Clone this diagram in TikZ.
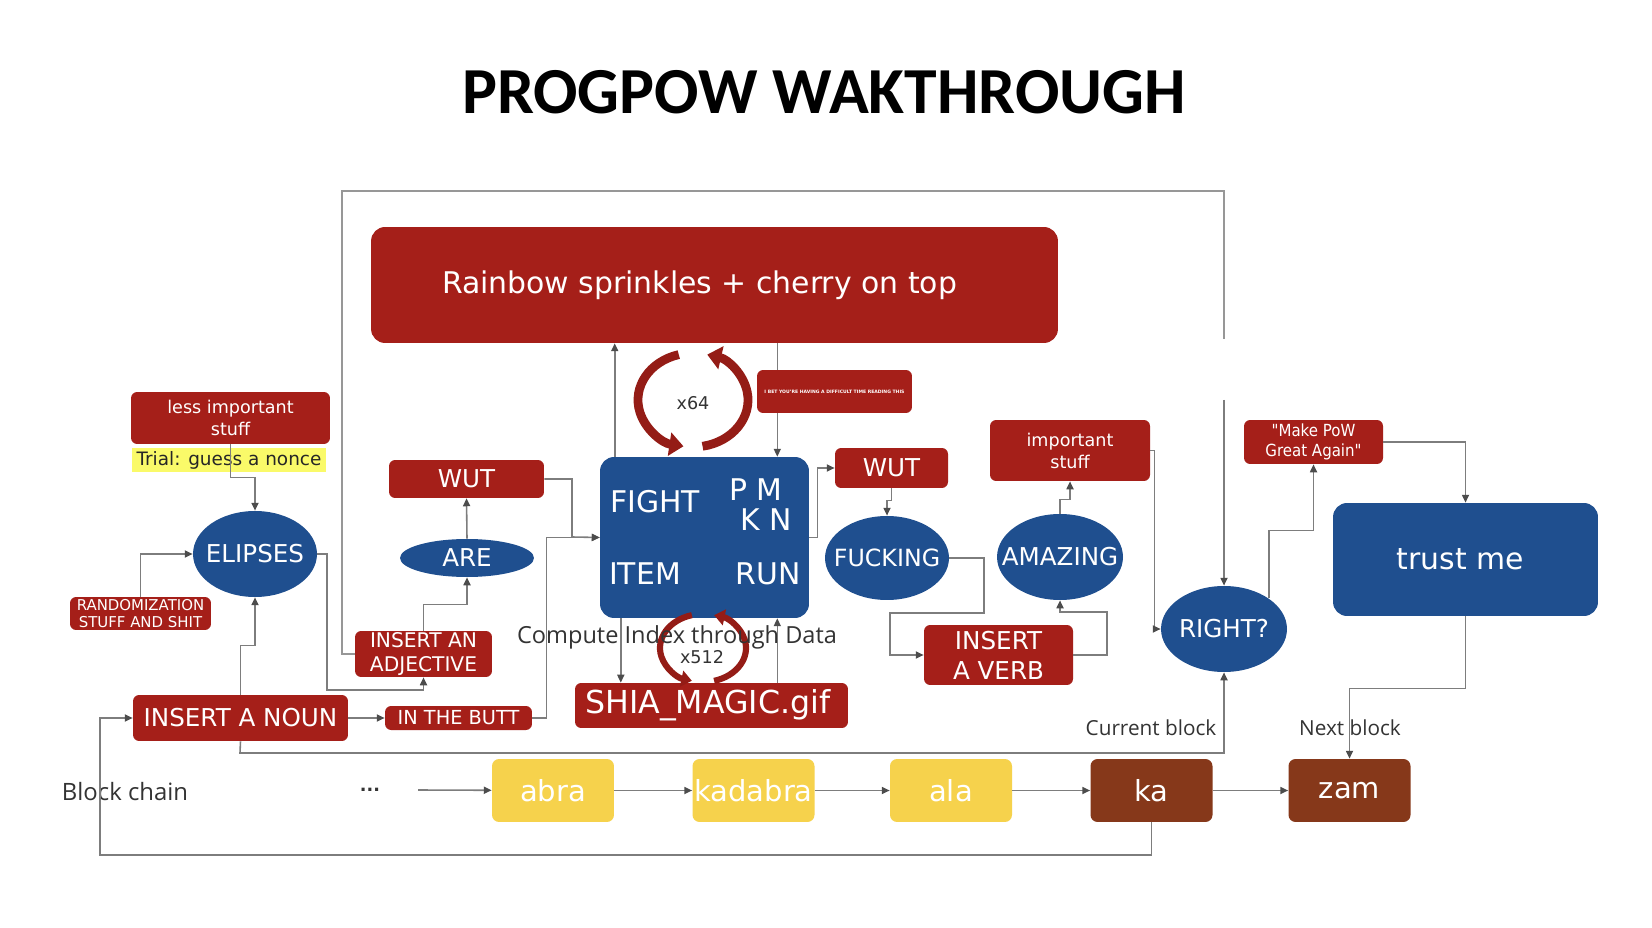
\documentclass[tikz,border=0pt]{standalone}
\usepackage{fontspec}
\setmainfont{DejaVu Sans}
\newfontfamily\titlefont{Carlito}
\newfontfamily\labelfont{Open Sans}
\newfontfamily\narrowfont{DejaVu Sans Condensed}
\usepackage{tikz}
\usetikzlibrary{shapes.geometric,arrows.meta}
\usepackage{xcolor}
\definecolor{pgred}{RGB}{165,31,25}
\definecolor{pgblue}{RGB}{31,79,143}
\definecolor{pgyellow}{RGB}{246,210,76}
\definecolor{pgbrown}{RGB}{134,56,26}
\definecolor{pghl}{RGB}{250,250,105}
\definecolor{pgline}{RGB}{125,125,125}
% zero-width text so the ellipse keeps its own size
\newcommand{\bloblbl}[1]{\makebox[0pt]{#1}}

\begin{document}
\begin{tikzpicture}[x=0.02cm, y=-0.02cm,
    box/.style={rectangle, rounded corners=3.5pt, fill=pgred, text=white, align=center, inner sep=0pt},
    bigbox/.style={box, rounded corners=8pt},
    blob/.style={ellipse, fill=pgblue, text=white, inner sep=0pt},
    bluebox/.style={rectangle, rounded corners=8pt, fill=pgblue, text=white, inner sep=0pt},
    inlbl/.style={text=white, inner sep=0pt, font=\fontsize{17}{19}\selectfont},
    block/.style={rectangle, rounded corners=4pt, text=white, inner sep=0pt, minimum width=2.44cm, minimum height=1.26cm, font=\fontsize{16.5}{18}\selectfont},
    note/.style={text=black!80, inner sep=0pt},
    link/.style={draw=pgline, line width=0.9pt, -{Triangle[length=4.5pt,width=4pt,color=black!70]}},
    frame/.style={draw=pgline!80, line width=1.2pt},
    swirl/.style={draw=pgred!90!black, line width=5pt, -{Triangle[length=8pt,width=13pt]}},
    smallswirl/.style={draw=pgred!90!black, line width=3.5pt, -{Triangle[length=6pt,width=9pt]}}]

    \useasboundingbox[fill=white] (0,0) rectangle (1652,928);

    % Title
    \node[font=\titlefont\bfseries\fontsize{37.4}{40}\selectfont] (title) at (824,92) {PROGPOW WAKTHROUGH};

    % Top box
    \node[bigbox, minimum width=13.74cm, minimum height=2.32cm, font=\fontsize{17}{20}\selectfont] (rainbow) at (714.5,285) {\hspace*{-0.6cm}Rainbow sprinkles + cherry on top};

    % Left side
    \node[box, minimum width=3.98cm, minimum height=1.04cm, font=\fontsize{10}{12.5}\selectfont] (lessimp) at (230.5,418) {less important\\stuff};
    \node[fill=pghl, minimum width=3.88cm, minimum height=0.48cm, inner sep=0pt, text=black!85, font=\fontsize{10.5}{12}\selectfont] (trial) at (229,460) {Trial: guess a nonce};
    \node[blob, minimum width=2.48cm, minimum height=1.72cm, font=\fontsize{14}{16}\selectfont] (elipses) at (255,554) {\bloblbl{ELIPSES}};
    \node[box, minimum width=2.82cm, minimum height=0.66cm, font=\fontsize{8.5}{9.8}\selectfont] (random) at (140.5,613.5) {RANDOMIZATION\\STUFF AND SHIT};
    \node[box, minimum width=3.1cm, minimum height=0.76cm, font=\fontsize{14}{16}\selectfont] (wutleft) at (466.5,479) {WUT};
    \node[blob, minimum width=2.68cm, minimum height=0.76cm, font=\fontsize{14}{16}\selectfont] (are) at (467,558) {\bloblbl{ARE}};
    \node[box, minimum width=2.74cm, minimum height=0.92cm, font=\fontsize{11.5}{13.6}\selectfont] (adjective) at (423.5,654) {INSERT AN\\ADJECTIVE};
    \node[box, minimum width=4.3cm, minimum height=0.92cm, font=\fontsize{14}{16}\selectfont] (noun) at (240.5,718) {INSERT A NOUN};
    \node[box, minimum width=2.94cm, minimum height=0.48cm, font=\fontsize{11}{12}\selectfont] (butt) at (458.5,718) {IN THE BUTT};

    % Centre
    \node[bluebox, minimum width=4.18cm, minimum height=3.22cm] (fight) at (704.5,537.5) {};
    \node[inlbl] (fightlbl) at (655,502) {FIGHT};
    \node[inlbl] (pmlbl) at (756,490) {P M};
    \node[inlbl] (knlbl) at (766,520) {K N};
    \node[inlbl] (itemlbl) at (645,574) {ITEM};
    \node[inlbl] (runlbl) at (768,574) {RUN};
    \node[box, minimum width=2.26cm, minimum height=0.8cm, font=\fontsize{14}{16}\selectfont] (wutright) at (891.5,468) {WUT};
    \node[blob, minimum width=2.48cm, minimum height=1.68cm, font=\fontsize{13.5}{16}\selectfont] (fucking) at (887,558) {\bloblbl{FUCKING}};
    \node[box, minimum width=5.46cm, minimum height=0.9cm, font=\fontsize{18}{20}\selectfont] (shia) at (711.5,705.5) {\hspace*{-0.15cm}SHIA\_MAGIC.gif};

    % Right side
    \node[box, minimum width=3.2cm, minimum height=1.22cm, font=\fontsize{10}{12.5}\selectfont] (impstuff) at (1070,450.5) {important\\stuff};
    \node[blob, minimum width=2.52cm, minimum height=1.72cm, font=\fontsize{14}{16}\selectfont] (amazing) at (1060,557) {\bloblbl{AMAZING}};
    \node[box, minimum width=2.98cm, minimum height=1.2cm, font=\fontsize{14}{17}\selectfont] (verb) at (998.5,655) {INSERT\\A VERB};
    \node[blob, minimum width=2.52cm, minimum height=1.72cm, font=\fontsize{14}{16}\selectfont] (rightq) at (1224,629) {\bloblbl{RIGHT?}};
    \node[box, minimum width=2.78cm, minimum height=0.88cm, font=\narrowfont\fontsize{9.5}{11}\selectfont] (makepow) at (1313.5,442) {"Make PoW\\Great Again"};
    \node[bluebox, minimum width=5.3cm, minimum height=2.26cm, font=\fontsize{17}{20}\selectfont] (trust) at (1465.5,559.5) {\hspace*{-0.2cm}trust me};

    % Block chain
    \node[note, font=\labelfont\fontsize{13.6}{15}\selectfont] (chainlbl) at (125,792) {Block chain};
    \node[note, font=\bfseries\fontsize{10}{12}\selectfont] (dots) at (370,790) {...};
    \coordinate (chainin) at (418,790);
    \node[block, fill=pgyellow] (abra) at (553,790.5) {abra};
    \node[block, fill=pgyellow] (kadabra) at (753.5,790.5) {kadabra};
    \node[block, fill=pgyellow] (ala) at (951,790.5) {ala};
    \node[block, fill=pgbrown] (ka) at (1151.5,790.5) {ka};
    \node[block, fill=pgbrown] (zam) at (1349.5,790.5) {zam};
    \node[note, font=\labelfont\fontsize{11.8}{14}\selectfont] (curlbl) at (1151,728) {Current block};
    \node[note, font=\labelfont\fontsize{11.8}{14}\selectfont] (nextlbl) at (1350,728) {Next block};
    \coordinate (gapend) at (1224,400);

    % Frame
    \draw[frame] (adjective.west) -| (342,191) -- (1224,191) -- (1224,339);

    % Left links
    \draw[link] (lessimp.south) -- ++(0,33) -| (elipses.north);
    \draw[link] (random.north) |- (elipses.west);
    \draw[link] (elipses.east) -| (327,690) -| (adjective.south);
    \draw[link] (noun.north) -- ++(0,-49) -| (elipses.south);
    \draw[link] (noun.east) -- (butt.west);
    \draw[link] (adjective.north) -- ++(0,-26) -| (are.south);
    \draw[link] (are.north) -- (wutleft.south);
    \draw[link] (wutleft.east) -| (572,537) -- (fight.west);
    \draw[link] (butt.east) -- ++(14,0) |- (fight.west);

    % Centre links
    \draw[link] (fight.138) -- (fight.138 |- rainbow.south);
    \draw[link] (fight.48 |- rainbow.south) -- (fight.48);
    \draw[link] (fight.224) -- (fight.224 |- shia.north);
    \draw[link] (fight.312 |- shia.north) -- (fight.312);
    \draw[link] (fight.east) -- ++(8,0) |- (wutright.west);
    \draw[link] (wutright.south) -- ++(0,12) -| (fucking.north);
    \draw[link] (fucking.east) -| (984,613) -- (890,613) |- (verb.west);
    \draw[link] (verb.east) -| (1107,612) -| (amazing.south);
    \draw[link] (amazing.north) -- ++(0,-14) -| (impstuff.south);

    % Right links
    \draw[link] (impstuff.east) -- ++(4,0) |- (rightq.west);
    \draw[link] (gapend) -- (rightq.north);
    \draw[link] (rightq.north east) -- ++(0,-68) -| (makepow.south);
    \draw[link] (makepow.east) -| (trust.north);
    \draw[link] (trust.south) -- ++(0,72) -| (zam.north);

    % Chain links
    \draw[link] (noun.south) -- (240,753) -| (rightq.south);
    \draw[link] (chainin) -- (abra);
    \foreach \a/\b in {abra/kadabra, kadabra/ala, ala/ka, ka/zam}
        \draw[link] (\a) -- (\b);
    \draw[link] (ka.south) |- (100,855) |- (noun.west);

    % Loops
    \draw[swirl] (693,400) ++(255:55 and 47) arc[start angle=255, end angle=100, x radius=55, y radius=47];
    \draw[swirl] (693,400) ++(80:55 and 47) arc[start angle=80, end angle=-75, x radius=55, y radius=47];
    \draw[smallswirl] (703,648) ++(255:43 and 34) arc[start angle=255, end angle=105, x radius=43, y radius=34];
    \draw[smallswirl] (703,648) ++(75:43 and 34) arc[start angle=75, end angle=-75, x radius=43, y radius=34];
    \node[note, font=\fontsize{10}{12}\selectfont] (loopa) at (693,403) {x64};
    \node[note, font=\fontsize{10}{12}\selectfont] (loopb) at (702,657) {x512};
    \node[note, font=\labelfont\fontsize{13.4}{15}\selectfont] (compute) at (677,637) {Compute Index through Data};

    \node[box, minimum width=3.1cm, minimum height=0.86cm, font=\bfseries\fontsize{2.6}{3}\selectfont] (squint) at (834.5,391.5) {I BET YOU'RE HAVING A DIFFICULT TIME READING THIS};
\end{tikzpicture}
\end{document}
